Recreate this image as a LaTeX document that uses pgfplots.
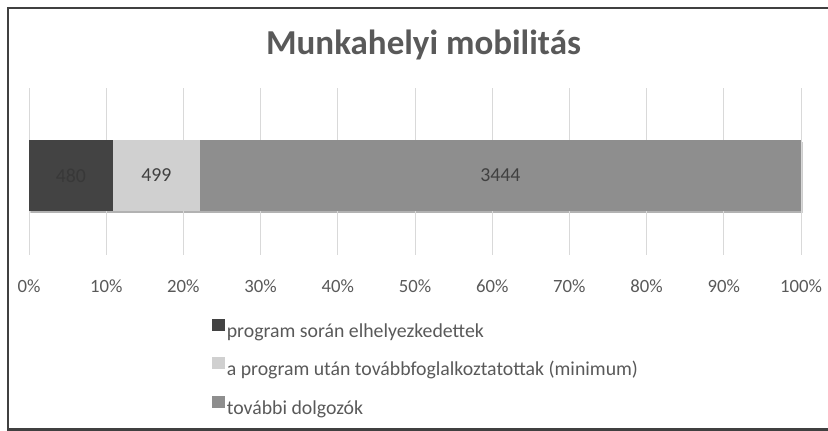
\documentclass[border=0pt]{standalone}
\usepackage{fontspec}
\setmainfont{Carlito}
\usepackage{pgfplots}
\pgfplotsset{compat=1.18}
\definecolor{segdark}{HTML}{434343}
\definecolor{seglight}{HTML}{D0D0D0}
\definecolor{segmid}{HTML}{8E8E8E}
\definecolor{txtgray}{HTML}{595959}
\definecolor{valgray}{HTML}{404040}
\definecolor{gridgray}{HTML}{D9D9D9}
\definecolor{framegray}{HTML}{404040}
\newcommand{\lbl}{\fontsize{18.7}{22}\selectfont}
\newcommand{\leg}{\fontsize{19.8}{23}\selectfont}

\begin{document}
\begin{tikzpicture}[x=1pt,y=1pt]
\useasboundingbox (0,0) rectangle (828,431);
\draw[framegray, line width=2.5pt] (832,423) -- (8,423) -- (8,1.5) -- (832,1.5);
\node[font=\fontsize{35}{40}\selectfont\bfseries, text=txtgray] at (423.5,386) {Munkahelyi mobilitás};

% bar shadow, drawn behind the bars
\begin{axis}[
  at={(30.5pt,173.5pt)}, anchor=south west,
  scale only axis, width=772pt, height=167pt,
  xbar, bar width=71pt, bar shift=0pt,
  xmin=0, xmax=4423, ymin=-79.5, ymax=87.5,
  hide axis,
]
\addplot[fill=black, draw=none, opacity=0.3] coordinates {(4423,0)};
\end{axis}

\begin{axis}[
  at={(29pt,176pt)}, anchor=south west,
  scale only axis, width=772pt, height=167pt,
  xbar stacked, bar width=71pt,
  xmin=0, xmax=4423, ymin=-79.5, ymax=87.5,
  xtick={0,442.3,884.6,1326.9,1769.2,2211.5,2653.8,3096.1,3538.4,3980.7,4423},
  xticklabels={0\%,10\%,20\%,30\%,40\%,50\%,60\%,70\%,80\%,90\%,100\%},
  ytick=\empty,
  xmajorgrids, grid style={gridgray, line width=1pt},
  axis line style={draw=none},
  major tick length=0pt,
  xticklabel style={font=\lbl, text=txtgray, yshift=-21pt},
  legend style={at={(axis description cs:0.2375,-0.385)}, anchor=north west,
    draw=none, fill=none, font=\leg, text=txtgray, row sep=16.5pt,
    inner sep=0pt, outer sep=0pt},
  legend cell align=left,
  legend image code/.code={\fill[#1] (0pt,0pt) rectangle (12.5pt,12pt);},
]
\addplot[fill=segdark, draw=none] coordinates {(480,0)};
\addplot[fill=seglight, draw=none] coordinates {(499,0)};
\addplot[fill=segmid, draw=none] coordinates {(3444,0)};
\legend{program során elhelyezkedettek,
  a program után továbbfoglalkoztatottak (minimum),
  további dolgozók}
\end{axis}

\begin{axis}[
  at={(29pt,176pt)}, anchor=south west,
  scale only axis, width=772pt, height=167pt,
  xmin=0, xmax=4423, ymin=-79.5, ymax=87.5,
  hide axis,
  point meta=explicit symbolic,
  nodes near coords,
  every node near coord/.style={anchor=center, font=\leg},
]
\addplot[draw=none, mark=none, nodes near coords style={text=black!78}]
  coordinates {(240,0) [480]};
\addplot[draw=none, mark=none, nodes near coords style={text=valgray}]
  coordinates {(729.5,0) [499] (2701,0) [3444]};
\end{axis}
\end{tikzpicture}
\end{document}
